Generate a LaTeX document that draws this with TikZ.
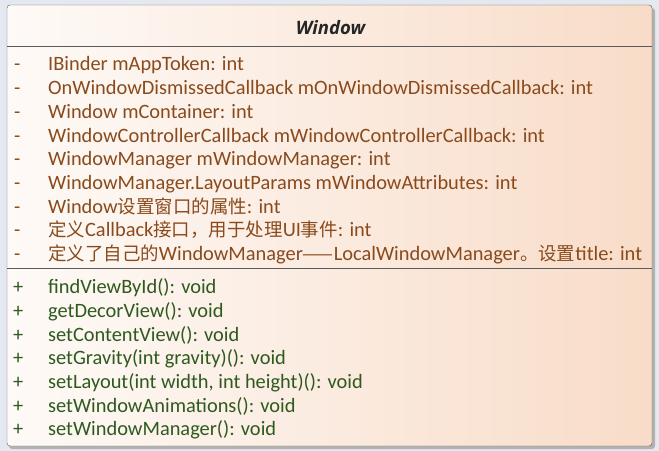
\documentclass[tikz,border=0pt]{standalone}
\usepackage{fontspec}
\setmainfont{Carlito}
\newfontfamily\cjk[Scale=0.905]{Noto Sans CJK SC}
\newfontfamily\titlefont{Open Sans}
\definecolor{pagebg}{HTML}{E4E8F0}
\definecolor{classleft}{HTML}{FEFAF7}
\definecolor{classright}{HTML}{F8DCC8}
\definecolor{classline}{HTML}{5A5A5A}
\definecolor{attrcol}{HTML}{8A4A1C}
\definecolor{opcol}{HTML}{2E5A1E}

\begin{document}
\begin{tikzpicture}[x=1bp, y=-1bp, font=\fontsize{20.4bp}{24bp}\selectfont,
  member/.style={anchor=base west, inner sep=0pt},
  attr/.style={member, text=attrcol},
  op/.style={member, text=opcol}]
\fill[pagebg] (0,0) rectangle (659,451);
% class box
\fill[black!30, rounded corners=3] (9,8) rectangle (655,449);
\shade[left color=classleft, right color=classright, draw=classline, rounded corners=3] (7,5) rectangle (652,446);
\draw[classline] (7,46) -- (652,46);
\draw[classline] (7,268) -- (652,268);
\node[anchor=base, inner sep=0pt, font=\titlefont\fontsize{18.5bp}{20bp}\selectfont\bfseries\itshape, text=black!85] (title) at (330.5,35) {Window};
% attributes
\foreach \t [count=\i] in {{IBinder mAppToken: int},
  {OnWindowDismissedCallback mOnWindowDismissedCallback: int},
  {Window mContainer: int},
  {WindowControllerCallback mWindowControllerCallback: int},
  {WindowManager mWindowManager: int},
  {WindowManager.LayoutParams mWindowAttributes: int},
  {Window{\cjk 设置窗口的属性}: int},
  {{\cjk 定义}Callback{\cjk 接口，用于处理}UI{\cjk 事件}: int},
  {{\cjk 定义了自己的}WindowManager{\cjk ——}LocalWindowManager{\cjk 。设置}title: int}} {
  \node[attr] (attr vis \i) at (14, {71+23.7*(\i-1)}) {-};
  \node[attr] (attr \i) at (48, {71+23.7*(\i-1)}) {\t};
}
% operations
\foreach \t [count=\i] in {{findViewById(): void},
  {getDecorView(): void},
  {setContentView(): void},
  {setGravity(int gravity)(): void},
  {setLayout(int width, int height)(): void},
  {setWindowAnimations(): void},
  {setWindowManager(): void}} {
  \node[op] (op vis \i) at (13, {294+23.6*(\i-1)}) {+};
  \node[op] (op \i) at (48, {294+23.6*(\i-1)}) {\t};
}
\end{tikzpicture}
\end{document}
